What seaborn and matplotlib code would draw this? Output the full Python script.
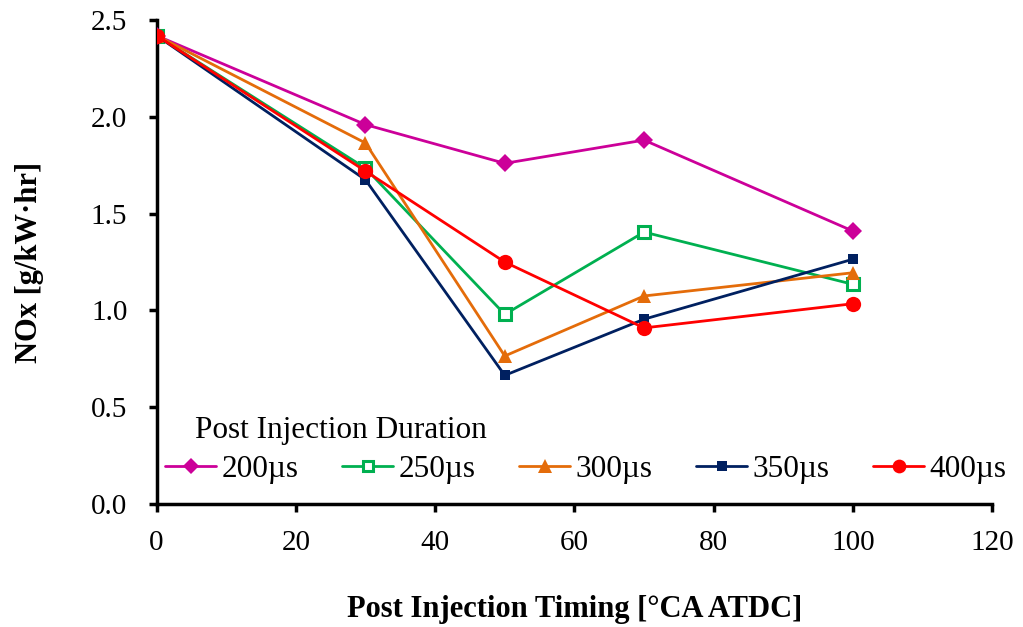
import pandas as pd
import numpy as np
import matplotlib
matplotlib.use('Agg')
import matplotlib.pyplot as plt
import seaborn as sns

# Data
timing = [0, 30, 50, 70, 100]
nox_200 = [2.42, 1.96, 1.76, 1.88, 1.41]
nox_250 = [2.42, 1.735, 0.98, 1.405, 1.135]
nox_300 = [2.42, 1.865, 0.765, 1.075, 1.195]
nox_350 = [2.42, 1.675, 0.665, 0.955, 1.265]
nox_400 = [2.42, 1.72, 1.25, 0.91, 1.035]

durations = ['200µs', '250µs', '300µs', '350µs', '400µs']
colors = ['#CC0099', '#00B050', '#E46C0A', '#002060', '#FF0000']
markers = ['D', 's', '^', 's', 'o']
msizes = [9.5, 8.5, 10.5, 7.5, 11]

# Long data frame for seaborn
rows = []
for dur, vals in zip(durations, [nox_200, nox_250, nox_300, nox_350, nox_400]):
    for t, v in zip(timing, vals):
        rows.append({'timing': t, 'nox': v, 'duration': dur})
df = pd.DataFrame(rows)

sns.set_style('ticks', {'axes.edgecolor': 'black', 'text.color': 'black',
                        'xtick.color': 'black', 'ytick.color': 'black',
                        'axes.labelcolor': 'black'})
plt.rcParams['font.family'] = ['Liberation Serif', 'DejaVu Serif']

fig, ax = plt.subplots(figsize=(10.23, 6.27), dpi=100)
fig.subplots_adjust(left=0.153, right=0.970, bottom=0.196, top=0.968)

for i, dur in enumerate(durations):
    sub = df[df['duration'] == dur]
    open_marker = dur == '250µs'
    sns.lineplot(data=sub, x='timing', y='nox', ax=ax, color=colors[i],
                 marker=markers[i], markersize=msizes[i], linewidth=2,
                 markerfacecolor='white' if open_marker else colors[i],
                 markeredgecolor=colors[i],
                 markeredgewidth=2.2 if open_marker else 0,
                 label=dur, zorder=3 + i)

ax.set_xlim(0, 120)
ax.set_ylim(0, 2.5)
ax.set_xticks(np.arange(0, 121, 20))
ax.set_yticks(np.arange(0, 2.51, 0.5))
ax.yaxis.set_major_formatter(matplotlib.ticker.FormatStrFormatter('%.1f'))
ax.tick_params(axis='both', direction='out', length=6, width=2.5, labelsize=21,
               colors='black')
ax.tick_params(axis='x', pad=13)
ax.tick_params(axis='y', pad=15)

sns.despine(ax=ax)
for side in ['left', 'bottom']:
    ax.spines[side].set_linewidth(2.5)
    ax.spines[side].set_color('black')

ax.set_xlabel('Post Injection Timing [°CA ATDC]', fontweight='bold', fontsize=22,
              labelpad=28, color='black')
ax.set_ylabel('NOx [g/kW·hr]', fontweight='bold', fontsize=22, labelpad=34,
              color='black')

# legend title is a separate text box, like the original
ax.text(0.046, 0.153, 'Post Injection Duration', transform=ax.transAxes,
        fontsize=22.5, ha='left', va='center', color='black')
leg = ax.legend(ncol=5, loc='lower left',
                bbox_to_anchor=(0.01, 0.042), frameon=False, fontsize=22.5,
                markerscale=0.9, handlelength=1.65, borderpad=0,
                columnspacing=1.4, handletextpad=0.15, borderaxespad=0)
for t in leg.get_texts():
    t.set_color('black')

fig.savefig('out.png', dpi=100)
